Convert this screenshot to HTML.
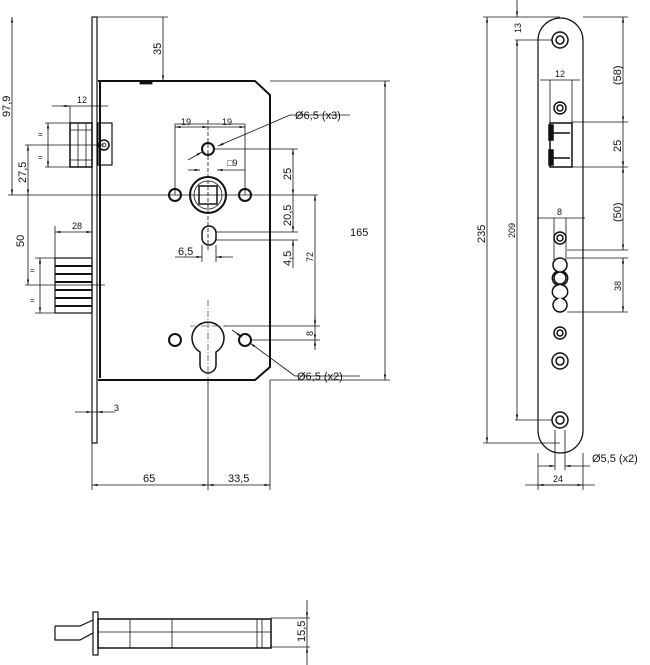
<!DOCTYPE html>
<html><head><meta charset="utf-8"><style>
html,body{margin:0;padding:0;background:#fff}
svg{display:block}
text{font-family:"Liberation Sans",sans-serif;fill:#111}
</style></head><body>
<svg width="650" height="665" viewBox="0 0 650 665" xmlns="http://www.w3.org/2000/svg">
<defs>
<marker id="a" viewBox="0 0 10 10" refX="10" refY="5" markerWidth="7" markerHeight="7" orient="auto-start-reverse"><path d="M0,3 L10,5 L0,7z" fill="#111"/></marker>
</defs>
<g stroke="#111" fill="none" stroke-width="0.8">
<rect x="92" y="17" width="5" height="426" stroke-width="1.2"/>
<line x1="92" y1="412" x2="97" y2="412"/>
<path d="M98,81 L255,81 L270,95 L270,367 L255,380 L98,380" stroke-width="2"/>
<line x1="100" y1="81" x2="100" y2="378" stroke-width="2"/>
<rect x="140" y="81" width="12" height="3" fill="#111"/>
<rect x="70" y="123" width="22" height="44" stroke-width="1.5"/>
<line x1="70" y1="130" x2="92" y2="130"/><line x1="70" y1="160" x2="92" y2="160"/>
<line x1="78" y1="123" x2="78" y2="167"/><line x1="86" y1="123" x2="86" y2="167"/>
<rect x="98" y="123" width="14" height="42" stroke-width="1.2"/>
<circle cx="104" cy="145" r="5" stroke-width="1.5"/><circle cx="104" cy="145" r="2"/>
<rect x="55" y="258" width="37" height="55" stroke-width="1.2"/>
<g stroke-width="2"><line x1="55" y1="266" x2="92" y2="266"/><line x1="55" y1="274" x2="92" y2="274"/><line x1="55" y1="282" x2="92" y2="282"/><line x1="55" y1="290" x2="92" y2="290"/><line x1="55" y1="298" x2="92" y2="298"/><line x1="55" y1="306" x2="92" y2="306"/></g>
<circle cx="208" cy="195" r="18" stroke-width="2"/><circle cx="208" cy="195" r="14"/>
<rect x="199" y="186" width="18" height="18" stroke-width="1.5"/>
<circle cx="175" cy="195" r="6" stroke-width="2"/><circle cx="245" cy="195" r="6" stroke-width="2"/>
<circle cx="208" cy="149" r="6" stroke-width="2"/>
<rect x="202" y="226" width="14" height="19" rx="7" stroke-width="1.5"/>
<path d="M200,352 A16,16 0 1 1 216,352 L216,365 A8,8 0 0 1 200,365 Z" stroke-width="1.5"/>
<circle cx="175" cy="340" r="6" stroke-width="2"/><circle cx="245" cy="340" r="6" stroke-width="2"/>
<g stroke-dasharray="6,2,1,2" stroke-width="0.6"><line x1="208" y1="300" x2="208" y2="380"/><line x1="190" y1="326" x2="226" y2="326"/></g>
<line x1="92" y1="17" x2="168" y2="17"/>
<line x1="8" y1="195" x2="318" y2="195"/>
<line x1="12" y1="17" x2="12" y2="195" marker-start="url(#a)" marker-end="url(#a)"/>
<line x1="163" y1="17" x2="163" y2="81" marker-end="url(#a)"/>
<line x1="270" y1="81" x2="390" y2="81"/><line x1="270" y1="380" x2="390" y2="380"/>
<line x1="385" y1="81" x2="385" y2="380" marker-start="url(#a)" marker-end="url(#a)"/>
<line x1="52" y1="106" x2="108" y2="106"/><line x1="70" y1="106" x2="70" y2="123"/>
<line x1="62" y1="106" x2="70" y2="106" marker-end="url(#a)"/>
<line x1="45" y1="123" x2="70" y2="123"/><line x1="45" y1="167" x2="70" y2="167"/>
<line x1="48" y1="123" x2="48" y2="167" marker-start="url(#a)" marker-end="url(#a)"/>
<line x1="25" y1="145" x2="104" y2="145"/>
<line x1="28" y1="145" x2="28" y2="195" marker-start="url(#a)" marker-end="url(#a)"/>
<line x1="28" y1="195" x2="28" y2="285" marker-end="url(#a)"/>
<line x1="25" y1="285" x2="105" y2="285"/>
<line x1="35" y1="258" x2="55" y2="258"/><line x1="35" y1="313" x2="55" y2="313"/>
<line x1="40" y1="258" x2="40" y2="313" marker-start="url(#a)" marker-end="url(#a)"/>
<line x1="55" y1="232" x2="92" y2="232" marker-start="url(#a)" marker-end="url(#a)"/>
<line x1="55" y1="226" x2="55" y2="258"/>
<line x1="175" y1="124" x2="245" y2="124"/>
<line x1="175" y1="124" x2="175" y2="195"/><line x1="245" y1="124" x2="245" y2="195"/>
<line x1="175" y1="127" x2="208" y2="127" marker-start="url(#a)" marker-end="url(#a)"/>
<line x1="208" y1="127" x2="245" y2="127" marker-end="url(#a)"/>
<line x1="208" y1="120" x2="208" y2="250" stroke-dasharray="4,2"/>
<line x1="188" y1="170" x2="200" y2="170" marker-end="url(#a)"/>
<line x1="217" y1="170" x2="245" y2="170" marker-start="url(#a)"/>
<line x1="290" y1="115" x2="218" y2="146" marker-end="url(#a)"/><line x1="290" y1="115" x2="350" y2="115"/>
<line x1="188" y1="160" x2="202" y2="152" marker-end="url(#a)"/>
<line x1="214" y1="149" x2="298" y2="149"/>
<line x1="293" y1="149" x2="293" y2="195" marker-start="url(#a)" marker-end="url(#a)"/>
<line x1="293" y1="195" x2="293" y2="232" marker-end="url(#a)"/>
<line x1="216" y1="232" x2="298" y2="232"/><line x1="216" y1="240" x2="298" y2="240"/>
<line x1="293" y1="240" x2="293" y2="268" marker-start="url(#a)"/>
<line x1="175" y1="257" x2="202" y2="257" marker-end="url(#a)"/>
<line x1="216" y1="257" x2="233" y2="257" marker-start="url(#a)"/>
<line x1="202" y1="245" x2="202" y2="262"/><line x1="216" y1="245" x2="216" y2="262"/>
<line x1="315" y1="195" x2="315" y2="340" marker-start="url(#a)" marker-end="url(#a)"/>
<line x1="224" y1="326" x2="320" y2="326"/><line x1="251" y1="340" x2="320" y2="340"/>
<line x1="315" y1="315" x2="315" y2="326" marker-end="url(#a)"/>
<line x1="315" y1="350" x2="315" y2="340" marker-end="url(#a)"/>
<line x1="295" y1="376" x2="250" y2="343" marker-end="url(#a)"/><line x1="295" y1="376" x2="360" y2="376"/>
<line x1="232" y1="330" x2="242" y2="337" marker-end="url(#a)"/>
<line x1="75" y1="412" x2="92" y2="412" marker-end="url(#a)"/>
<line x1="115" y1="412" x2="97" y2="412" marker-end="url(#a)"/>
<line x1="92" y1="443" x2="92" y2="490"/><line x1="270" y1="380" x2="270" y2="490"/>
<line x1="208" y1="380" x2="208" y2="490"/>
<line x1="92" y1="485" x2="208" y2="485" marker-start="url(#a)" marker-end="url(#a)"/>
<line x1="208" y1="485" x2="270" y2="485" marker-start="url(#a)" marker-end="url(#a)"/>
<rect x="538" y="18" width="45" height="435" rx="22.5" stroke-width="1.2"/>
<g stroke-width="1.5">
<circle cx="560" cy="40" r="8"/><circle cx="560" cy="40" r="4"/>
<circle cx="560" cy="108" r="6"/><circle cx="560" cy="108" r="3"/>
<circle cx="560" cy="238" r="6"/><circle cx="560" cy="238" r="3"/>
<circle cx="560" cy="333" r="6"/><circle cx="560" cy="333" r="3"/>
<circle cx="560" cy="361" r="8"/><circle cx="560" cy="361" r="4"/>
<circle cx="560" cy="420" r="8"/><circle cx="560" cy="420" r="4"/>
<path d="M557.4,271.5 A7,7 0 1 1 562.6,271.5 A7,7 0 0 1 562.6,285 A7,7 0 0 1 562.6,298.5 A7,7 0 1 1 557.4,298.5 A7,7 0 0 1 557.4,285 A7,7 0 0 1 557.4,271.5Z"/>
<circle cx="560" cy="278" r="6"/>
<rect x="550" y="123" width="22" height="44"/>
<rect x="549" y="125" width="4" height="15" fill="#111"/><rect x="549" y="150" width="4" height="15" fill="#111"/>
<line x1="553" y1="133" x2="570" y2="133"/><line x1="553" y1="158" x2="570" y2="158"/>
</g>
<line x1="483" y1="17" x2="560" y2="17"/><line x1="483" y1="443" x2="560" y2="443"/>
<line x1="487" y1="17" x2="487" y2="443" marker-start="url(#a)" marker-end="url(#a)"/>
<line x1="515" y1="40" x2="552" y2="40"/><line x1="515" y1="420" x2="552" y2="420"/>
<line x1="517" y1="40" x2="517" y2="420" marker-start="url(#a)" marker-end="url(#a)"/>
<line x1="517" y1="0" x2="517" y2="17" marker-end="url(#a)"/>
<line x1="583" y1="17" x2="628" y2="17"/>
<line x1="572" y1="122" x2="628" y2="122"/><line x1="572" y1="167" x2="628" y2="167"/>
<line x1="567" y1="250" x2="628" y2="250"/><line x1="567" y1="258" x2="628" y2="258"/><line x1="567" y1="312" x2="628" y2="312"/>
<line x1="623" y1="17" x2="623" y2="122" marker-start="url(#a)" marker-end="url(#a)"/>
<line x1="623" y1="122" x2="623" y2="167" marker-end="url(#a)"/>
<line x1="623" y1="167" x2="623" y2="250" marker-start="url(#a)" marker-end="url(#a)"/>
<line x1="623" y1="258" x2="623" y2="312" marker-start="url(#a)" marker-end="url(#a)"/>
<line x1="550" y1="80" x2="550" y2="123"/><line x1="572" y1="80" x2="572" y2="123"/>
<line x1="540" y1="80" x2="580" y2="80"/>
<line x1="554" y1="218" x2="554" y2="260"/><line x1="566" y1="218" x2="566" y2="260"/>
<line x1="537" y1="218" x2="585" y2="218"/>
<line x1="555" y1="430" x2="555" y2="470"/><line x1="565" y1="430" x2="565" y2="470"/>
<line x1="538" y1="466" x2="555" y2="466" marker-end="url(#a)"/>
<line x1="590" y1="466" x2="565" y2="466" marker-end="url(#a)"/>
<line x1="538" y1="453" x2="538" y2="490"/><line x1="583" y1="453" x2="583" y2="490"/>
<line x1="525" y1="485" x2="595" y2="485"/>
<line x1="538" y1="485" x2="583" y2="485" marker-start="url(#a)" marker-end="url(#a)"/>
<rect x="93" y="612" width="5" height="43" stroke-width="1.2"/>
<rect x="98" y="619" width="173" height="29" stroke-width="1.5"/>
<line x1="98" y1="632" x2="271" y2="632"/>
<line x1="130" y1="619" x2="130" y2="648"/><line x1="172" y1="619" x2="172" y2="648"/>
<line x1="257" y1="619" x2="257" y2="648"/><line x1="262" y1="619" x2="262" y2="648"/>
<path d="M55,626 L80,626 L93,620 M55,626 L55,640 L80,640 L93,633" stroke-width="1.2"/>
<line x1="271" y1="618" x2="310" y2="618"/><line x1="271" y1="647" x2="310" y2="647"/>
<line x1="307" y1="600" x2="307" y2="618" marker-end="url(#a)"/>
<line x1="307" y1="665" x2="307" y2="647" marker-end="url(#a)"/>
<line x1="307" y1="618" x2="307" y2="647"/>
</g>
<g font-size="11">
<text x="77" y="103" font-size="9">12</text>
<text x="72" y="229" font-size="9">28</text>
<text x="181" y="125" font-size="9">19</text>
<text x="222" y="125" font-size="9">19</text>
<text x="295" y="119">Ø6,5 (x3)</text>
<text x="227" y="166" font-size="9">□9</text>
<text x="178" y="255">6,5</text>
<text x="297" y="380">Ø6,5 (x2)</text>
<text x="114" y="411" font-size="9">3</text>
<text x="143" y="482">65</text>
<text x="228" y="482">33,5</text>
<text x="350" y="236">165</text>
<text x="555" y="77" font-size="9">12</text>
<text x="557" y="215" font-size="9">8</text>
<text x="592" y="462">Ø5,5 (x2)</text>
<text x="553" y="482" font-size="9">24</text>
</g>
<g font-size="11">
<text transform="translate(161,55) rotate(-90)">35</text>
<text transform="translate(10,117) rotate(-90)">97,9</text>
<text transform="translate(26,183) rotate(-90)">27,5</text>
<text transform="translate(24,247) rotate(-90)">50</text>
<text transform="translate(291,180) rotate(-90)">25</text>
<text transform="translate(291,226) rotate(-90)">20,5</text>
<text transform="translate(291,266) rotate(-90)">4,5</text>
<text transform="translate(313,262) rotate(-90)" font-size="9">72</text>
<text transform="translate(313,336) rotate(-90)" font-size="9">8</text>
<text transform="translate(485,243) rotate(-90)">235</text>
<text transform="translate(515,238) rotate(-90)" font-size="9">209</text>
<text transform="translate(521,33) rotate(-90)" font-size="9">13</text>
<text transform="translate(621,85) rotate(-90)">(58)</text>
<text transform="translate(621,152) rotate(-90)">25</text>
<text transform="translate(621,222) rotate(-90)">(50)</text>
<text transform="translate(621,291) rotate(-90)" font-size="9">38</text>
<text transform="translate(305,642) rotate(-90)">15,5</text>
</g>
<g font-size="8"><text x="38" y="137">=</text><text x="38" y="160">=</text><text x="30" y="273">=</text><text x="30" y="303">=</text></g>
</svg>
</body></html>
